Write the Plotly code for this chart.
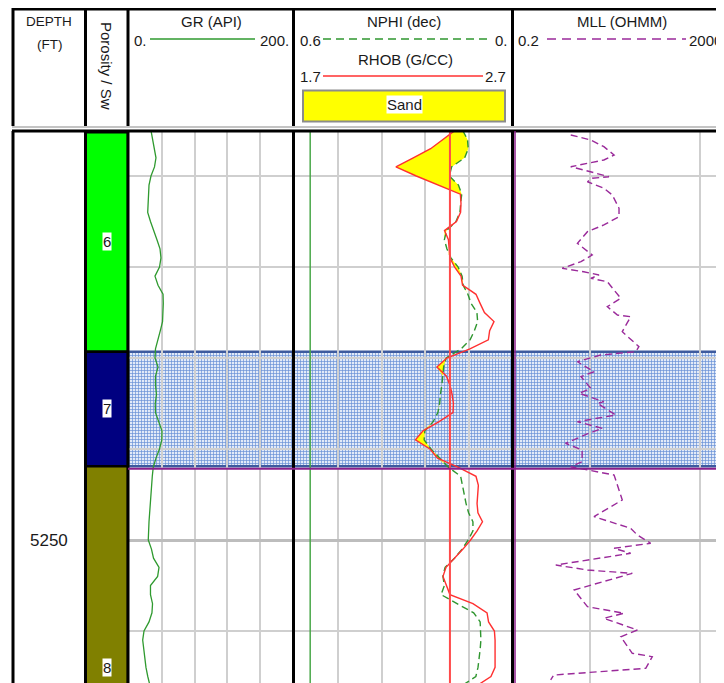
import math
import plotly.graph_objects as go

# The page body adds an 8px margin, so the figure is laid out 8px in from the window corner.
PAGE_W, PAGE_H = 724, 683
OFF = 8
W, H = PAGE_W - OFF, PAGE_H - OFF

# ---------------- data ----------------
depth = list(range(5205, 5267))
gr = [26.8, 28.7, 30.5, 32.9, 31.1, 26.8, 24.4, 23.8, 23.2, 22.8,
      26.2, 30.5, 34.1, 37.8, 39.0, 37.2, 31.7, 35.4, 41.5, 41.8,
      41.8, 40.9, 38.2, 34.8, 32.3, 31.7, 35.4, 32.3, 32.3, 33.5,
      32.0, 32.3, 36.6, 40.2, 40.0, 37.2, 32.9, 29.6, 28.4, 27.4,
      26.8, 26.2, 25.2, 24.4, 23.5, 23.5, 27.4, 29.9, 36.6, 34.9,
      26.2, 26.2, 28.7, 28.0, 24.4, 18.3, 16.7, 18.0, 19.3, 20.7,
      22.9, 25.6]
nphi = [0.136, 0.123, 0.121, 0.131, 0.167, 0.173, 0.148, 0.139, 0.142, 0.144,
        0.155, 0.181, 0.187, 0.180, 0.169, 0.149, 0.138, 0.135, 0.122, 0.113,
        0.097, 0.095, 0.104, 0.116, 0.141, 0.182, 0.189, 0.191, 0.194, 0.198,
        0.200, 0.205, 0.218, 0.241, 0.243, 0.224, 0.199, 0.176, 0.142, 0.137,
        0.133, 0.127, 0.120, 0.108, 0.108, 0.121, 0.138, 0.159, 0.185, 0.191,
        0.187, 0.196, 0.152, 0.106, 0.088, 0.086, 0.086, 0.088, 0.091, 0.094,
        0.100, 0.138]
rhob = [2.437, 2.382, 2.325, 2.245, 2.165, 2.259, 2.362, 2.462, 2.465, 2.463,
        2.444, 2.389, 2.407, 2.410, 2.414, 2.435, 2.465, 2.472, 2.534, 2.553,
        2.573, 2.617, 2.597, 2.591, 2.506, 2.400, 2.354, 2.398, 2.414, 2.424,
        2.430, 2.428, 2.364, 2.290, 2.255, 2.322, 2.357, 2.451, 2.534, 2.545,
        2.543, 2.539, 2.543, 2.564, 2.539, 2.509, 2.474, 2.435, 2.396, 2.382,
        2.398, 2.414, 2.520, 2.585, 2.592, 2.619, 2.622, 2.622, 2.622, 2.622,
        2.603, 2.539]
mll_depth = [5205.49, 5206.04, 5206.78, 5207.69, 5208.24, 5208.60, 5208.98, 5209.34, 5210.08, 5210.25,
             5210.63, 5211.35, 5212.09, 5213.55, 5214.47, 5215.38, 5216.12, 5217.40, 5218.68, 5219.42,
             5220.14, 5220.52, 5220.88, 5221.24, 5221.62, 5223.44, 5224.36, 5225.27, 5225.46, 5227.11,
             5228.76, 5229.31, 5229.67, 5230.41, 5231.51, 5232.05, 5233.33, 5233.88, 5234.80, 5234.98,
             5236.26, 5237.00, 5237.73, 5238.27, 5239.37, 5240.11, 5241.40, 5241.95, 5242.86, 5245.60,
             5247.44, 5248.71, 5249.45, 5250.36, 5250.91, 5251.46, 5252.75, 5253.30, 5253.66, 5255.49,
             5257.33, 5258.05, 5258.60, 5259.89, 5260.63, 5262.45, 5262.82, 5264.10, 5264.84, 5265.38]
mll = [0.67, 1.02, 1.34, 1.66, 1.34, 0.95, 0.67, 0.88, 1.49, 1.05,
       0.95, 1.34, 1.60, 1.84, 1.84, 1.34, 0.95, 0.77, 1.05, 0.83,
       0.56, 0.88, 1.21, 1.02, 1.44, 1.91, 1.44, 1.78, 2.35, 1.97,
       2.79, 2.61, 1.25, 0.77, 1.09, 0.83, 1.02, 0.80, 1.34, 1.17,
       1.72, 0.77, 1.30, 0.98, 0.60, 0.85, 0.85, 0.67, 1.66, 1.97,
       1.09, 2.35, 2.70, 3.57, 1.66, 2.35, 0.49, 0.95, 2.43, 0.72,
       0.95, 2.04, 1.34, 2.70, 1.91, 2.43, 3.69, 3.22, 0.47, 0.44]

zone_names = ["6", "7", "8"]
zone_top = [5205.2, 5229.3, 5241.9]
zone_base = [5229.3, 5241.9, 5286.2]
zone_colors = ["#00ff00", "#000080", "#808000"]
hatch_zone = 1                      # index of the highlighted (hatched) zone

depth_labels = [5250]
rhob_cutoff = 2.414
nphi_cutoff = 0.558

gr_range = [0, 200]
nphi_range = [0.6, 0.0]
rhob_range = [1.7, 2.7]
mll_range = [0.2, 2000]
gr_scale = ["0.", "200."]
nphi_scale = ["0.6", "0."]
rhob_scale = ["1.7", "2.7"]
mll_scale = ["0.2", "2000"]

# ---------------- layout helpers (window pixel -> paper) ----------------
def px(x):
    return (x - OFF) / W

def py(y):
    return 1 - (y - OFF) / H

FONT = "Liberation Sans, Arial, sans-serif"
TXT = "#1a1a1a"
DATA_TOP_PX = 132
PX_PER_FT = 9.1
REF_DEPTH, REF_PX = 5210, 176
BOTTOM_PX = OFF + H
d_top = REF_DEPTH + (DATA_TOP_PX - REF_PX) / PX_PER_FT
d_bot = REF_DEPTH + (BOTTOM_PX - REF_PX) / PX_PER_FT
YDOM = [0, py(DATA_TOP_PX)]

GR_COL = "#2f9a2f"
NPHI_COL = "#2f962f"
RHOB_COL = "#ff3030"
MLL_COL = "#9a2a9a"

fig = go.Figure()

# hatched zone (subplot xy, drawn first so curves sit above it)
t, b = zone_top[hatch_zone], zone_base[hatch_zone]
fig.add_trace(go.Scatter(
    x=[0, 1, 1, 0, 0], y=[t, t, b, b, t], mode="lines", fill="toself",
    line=dict(color="#3d5a9e", width=2.5),
    fillcolor="#e2eaf8",
    fillpattern=dict(shape="+", size=3, solidity=0.4, fgcolor="#6790d6",
                     bgcolor="#e2eaf8", fillmode="replace"),
    xaxis="x", yaxis="y", hoverinfo="skip"))

# zone column
fig.add_trace(go.Bar(
    x=[0.5] * len(zone_names),
    y=[zb - zt for zt, zb in zip(zone_top, zone_base)],
    base=zone_top, width=1,
    marker=dict(color=zone_colors, line=dict(color="black", width=2.5)),
    xaxis="x2", yaxis="y2", hoverinfo="skip"))

# GR
fig.add_trace(go.Scatter(x=gr, y=depth, mode="lines",
                         line=dict(color=GR_COL, width=1.3),
                         xaxis="x3", yaxis="y3"))

# neutron-density crossover fill (in NPHI units)
nphi_equiv = [nphi_range[0] - (r - rhob_range[0]) / (rhob_range[1] - rhob_range[0])
              * (nphi_range[0] - nphi_range[1]) for r in rhob]
fig.add_trace(go.Scatter(x=nphi, y=depth, mode="lines", line=dict(width=0),
                         xaxis="x4", yaxis="y4", hoverinfo="skip"))
fig.add_trace(go.Scatter(x=[max(a, e) for a, e in zip(nphi, nphi_equiv)], y=depth,
                         mode="lines", line=dict(width=0), fill="tonextx",
                         fillcolor="#ffff00", xaxis="x4", yaxis="y4", hoverinfo="skip"))
# NPHI curve
fig.add_trace(go.Scatter(x=nphi, y=depth, mode="lines",
                         line=dict(color=NPHI_COL, width=1.4, dash="7px,4px"),
                         xaxis="x4", yaxis="y4"))
# green reference line
fig.add_trace(go.Scatter(x=[nphi_cutoff, nphi_cutoff], y=[d_top - 1, d_bot + 1], mode="lines",
                         line=dict(color="#4aa84a", width=1.5), xaxis="x4", yaxis="y4"))
# RHOB curve
fig.add_trace(go.Scatter(x=rhob, y=depth, mode="lines",
                         line=dict(color=RHOB_COL, width=1.4),
                         xaxis="x5", yaxis="y4"))
# red reference line
fig.add_trace(go.Scatter(x=[rhob_cutoff, rhob_cutoff], y=[d_top - 1, d_bot + 1], mode="lines",
                         line=dict(color="#ff4a4a", width=2), xaxis="x5", yaxis="y4"))
# MLL
fig.add_trace(go.Scatter(x=mll, y=mll_depth, mode="lines",
                         line=dict(color=MLL_COL, width=1.4, dash="7px,4px"),
                         xaxis="x6", yaxis="y6"))

# ---------------- axes ----------------
ybase = dict(domain=YDOM, range=[d_bot, d_top], autorange=False, showticklabels=False,
             ticks="", zeroline=False, showline=False, fixedrange=True)
ygrid = dict(showgrid=True, tick0=5200, dtick=50, gridcolor="#bdbdbd", gridwidth=3,
             minor=dict(tick0=5200, dtick=10, showgrid=True, gridcolor="#cfcfcf", gridwidth=2))
xoff = dict(showticklabels=False, ticks="", zeroline=False, showline=False, fixedrange=True)
GRIDC = "#cfcfcf"

mll_lo = math.log10(mll_range[0])
fig.update_layout(
    width=W, height=H, margin=dict(l=0, r=0, t=0, b=0),
    paper_bgcolor="white", plot_bgcolor="rgba(0,0,0,0)",
    showlegend=False, barmode="overlay", hovermode=False,
    font=dict(family=FONT, color=TXT),
    xaxis=dict(domain=[px(128), 1], range=[0, 1], visible=False, anchor="y", **xoff),
    yaxis=dict(anchor="x", showgrid=False, visible=False, **ybase),
    xaxis2=dict(domain=[px(85), px(128)], range=[0, 1], visible=False, anchor="y2", **xoff),
    yaxis2=dict(anchor="x2", showgrid=False, visible=False, **ybase),
    xaxis3=dict(domain=[px(129), px(293)], range=gr_range, showgrid=True, tick0=0, dtick=40,
                gridcolor=GRIDC, gridwidth=2, anchor="y3", **xoff),
    yaxis3=dict(anchor="x3", **ybase, **ygrid),
    xaxis4=dict(domain=[px(295), px(512)], range=nphi_range, showgrid=True, tick0=0, dtick=0.12,
                gridcolor=GRIDC, gridwidth=2, anchor="y4", **xoff),
    xaxis5=dict(range=rhob_range, overlaying="x4", showgrid=False, anchor="y4", **xoff),
    yaxis4=dict(anchor="x4", **ybase, **ygrid),
    xaxis6=dict(domain=[px(513), 1], type="log", range=[mll_lo, mll_lo + (PAGE_W - 513) / 110],
                showgrid=True, dtick=1, gridcolor=GRIDC, gridwidth=2, anchor="y6", **xoff),
    yaxis6=dict(anchor="x6", **ybase, **ygrid),
)

# ---------------- frame / header shapes ----------------
shapes = []
def hline(x0, x1, y, color="black", width=3, dash=None):
    s = dict(type="line", xref="paper", yref="paper", x0=px(x0), x1=px(x1), y0=py(y), y1=py(y),
             line=dict(color=color, width=width), layer="above")
    if dash:
        s["line"]["dash"] = dash
    shapes.append(s)

def vline(x, y0, y1, color="black", width=3):
    shapes.append(dict(type="line", xref="paper", yref="paper", x0=px(x), x1=px(x),
                       y0=py(y0), y1=py(y1), line=dict(color=color, width=width), layer="above"))

hline(12, PAGE_W, 9, width=3)
hline(12, PAGE_W, 127, color="#c4c4c4", width=2)
hline(12, PAGE_W, 131, width=3)
for xb in [13, 85.5, 128, 293.5, 512.5]:
    vline(xb, 8, 126)
    vline(xb, 131, BOTTOM_PX)
vline(515, 131, BOTTOM_PX, color="#8b1e8b", width=1.5)
# purple marker under the hatched zone
shapes.append(dict(type="line", xref="paper", yref="y", x0=px(128), x1=1,
                   ysizemode="pixel", yanchor=zone_base[hatch_zone], y0=-2.5, y1=-2.5,
                   line=dict(color="#8b1e8b", width=2), layer="above"))
# header legend samples
hline(150, 255, 39, color=GR_COL, width=1.5)
hline(323, 491, 39, color=NPHI_COL, width=1.5, dash="8px,5px")
hline(323, 483, 76, color=RHOB_COL, width=1.5)
hline(547, 686, 39, color=MLL_COL, width=1.5, dash="9px,6px")
shapes.append(dict(type="rect", xref="paper", yref="paper", x0=px(303), x1=px(505),
                   y0=py(90.5), y1=py(121.5), fillcolor="#ffff00",
                   line=dict(color="#8c8c8c", width=2), layer="above"))
fig.update_layout(shapes=shapes)

# ---------------- text ----------------
ann = []
def text(x, y, s, size=15, angle=0, bg=None):
    a = dict(x=px(x), y=py(y), xref="paper", yref="paper", text=s, showarrow=False,
             xanchor="center", yanchor="middle", textangle=angle,
             font=dict(family=FONT, size=size, color=TXT))
    if bg:
        a["bgcolor"] = bg
        a["borderpad"] = 0
    ann.append(a)

text(49, 22, "DEPTH", size=13.5)
text(49, 44, "(FT)", size=13.5)
text(107, 66, "Porosity / Sw", size=15, angle=90)
text(211, 22, "GR (API)")
text(140, 40, gr_scale[0])
text(274, 40, gr_scale[1])
text(404, 22, "NPHI (dec)")
text(310, 40, nphi_scale[0])
text(501, 40, nphi_scale[1])
text(405, 59, "RHOB (G/CC)")
text(310, 76, rhob_scale[0])
text(496, 76, rhob_scale[1])
text(404, 105, "Sand", bg="white")
text(622, 22, "MLL (OHMM)")
text(528, 40, mll_scale[0])
text(705, 40, mll_scale[1])

for name, zt, zb in zip(zone_names, zone_top, zone_base):
    ann.append(dict(x=0.5, y=(zt + zb) / 2, xref="x2", yref="y2", text=name, showarrow=False,
                    xanchor="center", yanchor="middle", bgcolor="white", borderpad=0,
                    font=dict(family=FONT, size=15, color=TXT)))
for dl in depth_labels:
    ann.append(dict(x=px(49), y=dl, xref="paper", yref="y2", text=str(dl), showarrow=False,
                    xanchor="center", yanchor="middle",
                    font=dict(family=FONT, size=17, color=TXT)))
fig.update_layout(annotations=ann)

fig.write_html("out.html")
